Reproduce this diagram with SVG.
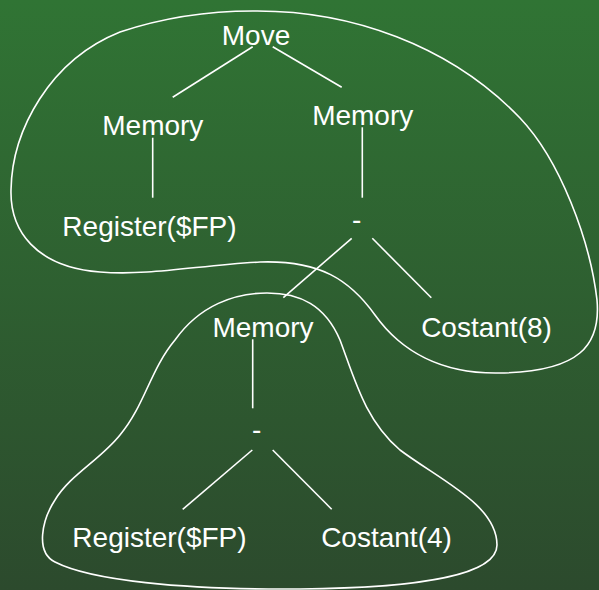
<svg xmlns="http://www.w3.org/2000/svg" width="599" height="590" viewBox="0 0 599 590">
<defs>
<linearGradient id="bg" x1="0" y1="0" x2="0" y2="1">
<stop offset="0" stop-color="#307434"/>
<stop offset="1" stop-color="#2c4a2d"/>
</linearGradient>
</defs>
<style>
text{font-family:"Liberation Sans",Arial,sans-serif;font-size:28px;fill:#fff;text-anchor:middle}
.c line{stroke:#fff;stroke-width:1.6;fill:none}
.blob{stroke:#fff;stroke-width:1.6;fill:none}
</style>
<rect width="599" height="590" fill="url(#bg)"/>
<path class="blob" d="M 253,11 C 350,10 450,45 520,118 C 560,160 590,240 597,300 C 601,345 580,372 499,373 C 440,374 400,350 375,315 C 350,280 320,260 260,262 C 200,265 150,276 100,272 C 35,267 10,230 11,190 C 12,130 50,60 120,32 C 165,17 210,11 253,11 Z"/>
<path class="blob" d="M 267,293 C 300,293 325,305 340,340 C 355,380 365,420 400,450 C 440,480 497,505 497,545 C 497,575 420,588 300,589 C 180,590 90,580 55,562 C 35,552 42,520 55,500 C 70,475 100,460 120,435 C 145,405 150,370 175,340 C 200,305 235,293 267,293 Z"/>
<g class="c" id="connectors">
<line x1="252.7" y1="46.7" x2="172.7" y2="97.3"/>
<line x1="272.7" y1="46.7" x2="341.7" y2="87.3"/>
<line x1="152.7" y1="137.7" x2="152.7" y2="197.7"/>
<line x1="362.3" y1="127.3" x2="362.3" y2="197.7"/>
<line x1="351.7" y1="238.3" x2="283.3" y2="297.7"/>
<line x1="372.3" y1="238.3" x2="431.3" y2="297.7"/>
<line x1="252.7" y1="339.3" x2="252.7" y2="408.3"/>
<line x1="252.3" y1="450" x2="182.7" y2="509.3"/>
<line x1="272.7" y1="450" x2="331.7" y2="509.3"/>
</g>
<g id="move"><text x="256" y="45">Move</text></g>
<g id="memory1"><text x="152.8" y="135">Memory</text></g>
<g id="memory2"><text x="362.7" y="125">Memory</text></g>
<g id="register1"><text x="149.5" y="236">Register($FP)</text></g>
<g id="minus1"><text x="356.7" y="228.5">-</text></g>
<g id="memory3"><text x="263" y="337">Memory</text></g>
<g id="costant8"><text x="486.5" y="337">Costant(8)</text></g>
<g id="minus2"><text x="256.7" y="439">-</text></g>
<g id="register2"><text x="159.5" y="547">Register($FP)</text></g>
<g id="costant4"><text x="386.5" y="547">Costant(4)</text></g>
</svg>
